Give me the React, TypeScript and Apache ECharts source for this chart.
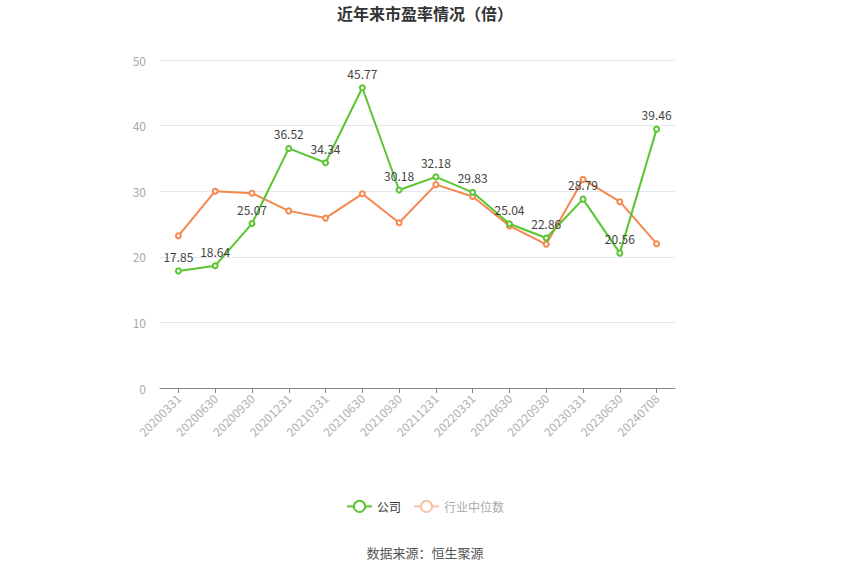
import React, { useEffect, useRef } from 'react';
import * as echarts from 'echarts';

const categories = [
  '20200331', '20200630', '20200930', '20201231', '20210331', '20210630', '20210930',
  '20211231', '20220331', '20220630', '20220930', '20230331', '20230630', '20240708',
];
const companyPE = [17.85, 18.64, 25.07, 36.52, 34.34, 45.77, 30.18, 32.18, 29.83, 25.04, 22.86, 28.79, 20.56, 39.46];
const industryPE = [23.2, 30.0, 29.7, 27.0, 25.9, 29.6, 25.2, 31.0, 29.2, 24.7, 21.9, 31.8, 28.4, 22.0];
const yTicks = { min: 0, max: 50, interval: 10 };

const App: React.FC = () => {
  const chartRef = useRef<HTMLDivElement>(null);

  useEffect(() => {
    document.body.style.margin = '0';
    if (!chartRef.current) return;
    const chart = echarts.init(chartRef.current, undefined, { renderer: 'svg' });
    const font = '"Noto Sans CJK SC", "Noto Sans", sans-serif';

    chart.setOption({
      animation: false,
      textStyle: { fontFamily: font },
      title: {
        text: '近年来市盈率情况（倍）',
        left: 'center',
        top: 0,
        textStyle: { fontSize: 16, fontWeight: 'bold', color: '#333', fontFamily: font },
      },
      grid: { left: 160, right: 175, top: 60, bottom: 187 },
      legend: {
        bottom: 57,
        left: 'center',
        itemWidth: 25,
        itemHeight: 14,
        itemGap: 12,
        textStyle: { fontSize: 12, color: '#333' },
        data: [
          { name: '公司' },
          {
            name: '行业中位数',
            textStyle: { color: '#aaa' },
            itemStyle: { color: '#fac3a8' },
            lineStyle: { color: '#fac3a8' },
          },
        ],
      },
      graphic: [
        {
          type: 'text',
          left: 'center',
          top: 546,
          style: { text: '数据来源：恒生聚源', fontSize: 13, fill: '#555', fontFamily: font },
        },
      ],
      xAxis: {
        type: 'category',
        data: categories,
        boundaryGap: true,
        axisLine: { lineStyle: { color: '#888' } },
        axisTick: { show: true, alignWithLabel: true, lineStyle: { color: '#888' } },
        axisLabel: { rotate: 45, color: '#b0b0b0', fontSize: 12, interval: 0 },
      },
      yAxis: {
        type: 'value',
        min: yTicks.min,
        max: yTicks.max,
        interval: yTicks.interval,
        axisLine: { show: false },
        axisTick: { show: false },
        axisLabel: { color: '#aaa', fontSize: 12, margin: 14 },
        splitLine: { lineStyle: { color: '#e3e8f0' } },
      },
      series: [
        {
          name: '公司',
          type: 'line',
          data: companyPE,
          symbol: 'emptyCircle',
          symbolSize: 5,
          color: '#5ac530',
          lineStyle: { width: 2, color: '#5ac530' },
          itemStyle: { color: '#5ac530', borderWidth: 2 },
          label: { show: true, position: 'top', color: '#444', fontSize: 12 },
          z: 3,
        },
        {
          name: '行业中位数',
          type: 'line',
          data: industryPE,
          symbol: 'emptyCircle',
          symbolSize: 5,
          color: '#f5874f',
          lineStyle: { width: 2, color: '#f5874f' },
          itemStyle: { color: '#f5874f', borderWidth: 2 },
          z: 2,
        },
      ],
    });

    return () => chart.dispose();
  }, []);

  return <div ref={chartRef} style={{ width: 850, height: 575 }} />;
};

export default App;
